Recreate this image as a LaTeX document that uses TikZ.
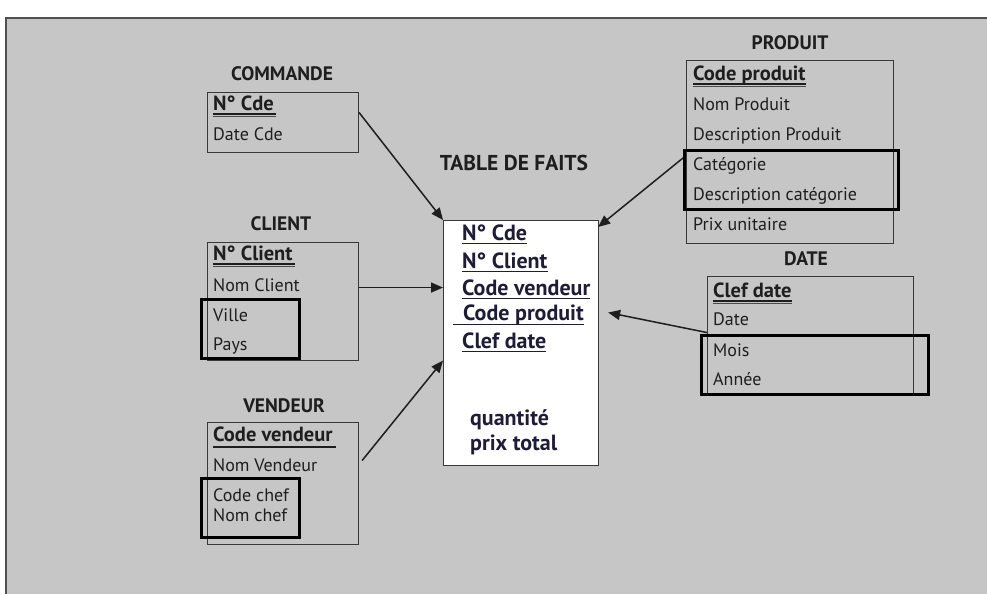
\documentclass[tikz,border=0pt]{standalone}
\usepackage{fontspec}
\setmainfont{PT Sans}
\usetikzlibrary{arrows.meta,calc}
\definecolor{bgray}{HTML}{C6C6C6}
\definecolor{boxc}{HTML}{383838}
\definecolor{txt}{HTML}{1E1E1E}
\definecolor{facttxt}{HTML}{1E1C36}
\definecolor{frame}{HTML}{505050}
\tikzset{
  tbox/.style={draw=boxc, line width=1.1pt, rectangle, inner sep=0pt, anchor=north west},
  hbox/.style={draw=black, line width=2.8pt, rectangle, inner sep=0pt, anchor=north west},
  item/.style={anchor=base west, inner sep=0pt, text=txt, font=\fontsize{18}{19}\selectfont},
  kitem/.style={item, font=\fontsize{20.5}{22}\selectfont\bfseries},
  fitem/.style={anchor=base west, inner sep=0pt, text=facttxt, font=\fontsize{22}{23}\selectfont\bfseries},
  ttl/.style={anchor=base, inner sep=0pt, text=txt, font=\fontsize{19.5}{21}\selectfont\bfseries},
  ulthick/.style={draw=txt, line width=2pt},
  ulthin/.style={draw=txt!80, line width=1pt},
  ulfact/.style={draw=facttxt, line width=1.6pt},
  conn/.style={draw=txt, line width=1.5pt, -{Triangle[length=12pt,width=10pt]}}
}
\begin{document}
\begin{tikzpicture}[x=1pt,y=-1pt]
\useasboundingbox (0,0) rectangle (987,594);
\fill[white] (0,0) rectangle (987,594);
\fill[bgray] (6,18) rectangle (987,594);
\draw[frame, line width=2pt] (6,594) -- (6,18) -- (987,18);

% ---------- COMMANDE ----------
\node[ttl] (tcmd) at (282,80) {COMMANDE};
\node[tbox, minimum width=151pt, minimum height=60pt] (cmd) at (207,92) {};
\node[kitem] (cmd1) at (213,110) {N° Cde};
\node[item] (cmd2) at (213,140) {Date Cde};
\draw[ulthick] ($(cmd1.base west)+(0,3.5)$) -- ($(cmd1.base east)+(2,3.5)$);
\draw[ulthin] ($(cmd1.base west)+(0,6.5)$) -- ($(cmd1.base east)+(2,6.5)$);

% ---------- CLIENT ----------
\node[ttl] (tcli) at (281,230) {CLIENT};
\node[tbox, minimum width=151pt, minimum height=118pt] (cli) at (207,242) {};
\node[kitem] (cli1) at (213,260) {N° Client};
\node[item] (cli2) at (213,291) {Nom Client};
\node[item] (cli3) at (213,321) {Ville};
\node[item] (cli4) at (213,350) {Pays};
\draw[ulthick] ($(cli1.base west)+(0,3.5)$) -- ($(cli1.base east)+(2,3.5)$);
\draw[ulthin] ($(cli1.base west)+(0,6.5)$) -- ($(cli1.base east)+(2,6.5)$);
\node[hbox, minimum width=98pt, minimum height=59pt] (clih) at (200,298) {};

% ---------- VENDEUR ----------
\node[ttl] (tven) at (284,412) {VENDEUR};
\node[tbox, minimum width=151pt, minimum height=122pt] (ven) at (207,422) {};
\node[kitem] (ven1) at (213,441) {Code vendeur};
\node[item] (ven2) at (213,471) {Nom Vendeur};
\node[item] (ven3) at (213,501) {Code chef};
\node[item] (ven4) at (213,521) {Nom chef};
\draw[ulthick] ($(ven1.base west)+(0,6)$) -- ($(ven1.base east)+(3,6)$);
\node[hbox, minimum width=98pt, minimum height=59pt] (venh) at (200,477) {};

% ---------- TABLE DE FAITS ----------
\node[ttl, font=\fontsize{21.5}{23}\selectfont\bfseries] (tfact) at (514,170) {TABLE DE FAITS};
\node[tbox, fill=white, minimum width=155pt, minimum height=245pt] (fact) at (443,220) {};
\node[fitem] (f1) at (462,240) {N° Cde};
\node[fitem] (f2) at (462,268) {N° Client};
\node[fitem] (f3) at (462,295) {Code vendeur};
\node[fitem] (f4) at (463,320) {Code produit};
\node[fitem] (f5) at (462,348) {Clef date};
\node[fitem] (f6) at (470,425) {quantité};
\node[fitem] (f7) at (470,450) {prix total};
\draw[ulfact] ($(f1.base west)+(0,3.5)$) -- ($(f1.base east)+(0,3.5)$);
\draw[ulfact] ($(f2.base west)+(0,3.5)$) -- ($(f2.base east)+(0,3.5)$);
\draw[ulfact] ($(f3.base west)+(0,3.5)$) -- ($(f3.base east)+(0,3.5)$);
\draw[ulfact] ($(f4.base west)+(-10,4.5)$) -- ($(f4.base east)+(0,4.5)$);
\draw[ulfact] ($(f5.base west)+(0,3.5)$) -- ($(f5.base east)+(0,3.5)$);

% ---------- PRODUIT ----------
\node[ttl] (tprod) at (790,50) {PRODUIT};
\node[tbox, minimum width=207pt, minimum height=183pt] (prod) at (686,60) {};
\node[kitem] (p1) at (693,80) {Code produit};
\node[item] (p2) at (693,110) {Nom Produit};
\node[item] (p3) at (693,140) {Description Produit};
\node[item] (p4) at (693,170) {Catégorie};
\node[item] (p5) at (693,200) {Description catégorie};
\node[item] (p6) at (693,230) {Prix unitaire};
\draw[ulthick] ($(p1.base west)+(0,3.5)$) -- ($(p1.base east)+(0,3.5)$);
\draw[ulthin] ($(p1.base west)+(0,6)$) -- ($(p1.base east)+(0,6)$);
\node[hbox, minimum width=214pt, minimum height=59pt] (prodh) at (683,149) {};

% ---------- DATE ----------
\node[ttl] (tdate) at (806,265) {DATE};
\node[tbox, minimum width=206pt, minimum height=119pt] (date) at (707,276) {};
\node[kitem] (d1) at (713,297) {Clef date};
\node[item] (d2) at (713,325) {Date};
\node[item] (d3) at (713,356) {Mois};
\node[item] (d4) at (713,385) {Année};
\draw[ulthick] ($(d1.base west)+(0,3.5)$) -- ($(d1.base east)+(0,3.5)$);
\draw[ulthin] ($(d1.base west)+(0,6)$) -- ($(d1.base east)+(0,6)$);
\node[hbox, minimum width=227pt, minimum height=59pt] (dateh) at (700,334) {};

% ---------- connectors ----------
\coordinate (cmdout) at ($(cmd.east)+(0,-10)$);
\coordinate (cliout) at ($(cli.east)+(0,-14)$);
\coordinate (venout) at ($(ven.east)+(3,-23)$);
\coordinate (venin) at ($(fact.west)+(0,17.5)$);
\coordinate (prodout) at ($(prodh.north west)+(0,9)$);
\coordinate (prodin) at ($(fact.north east)+(-1,7)$);
\coordinate (dateout) at ($(date.west)+(0,-3.5)$);
\coordinate (datein) at ($(fact.east)+(9,-30.5)$);
\draw[conn] (cmdout) -- (fact.north west);
\draw[conn] (cliout) -- (cliout -| fact.west);
\draw[conn] (venout) -- (venin);
\draw[conn] (prodout) -- (prodin);
\draw[conn] (dateout) -- (datein);
\end{tikzpicture}
\end{document}
